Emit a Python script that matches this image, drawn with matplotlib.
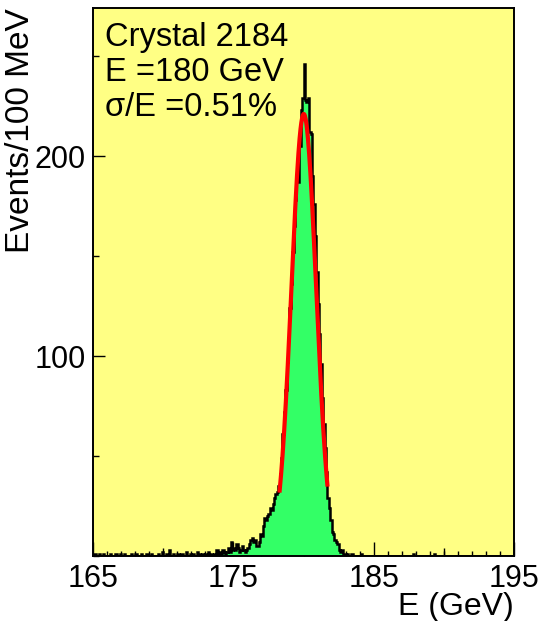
import numpy as np
import matplotlib
matplotlib.use("Agg")
import matplotlib.pyplot as plt
from matplotlib.ticker import MultipleLocator, FixedLocator

# histogram: 100 MeV bins from 165 to 195 GeV, one row per GeV
e_min = 165.0
bin_width = 0.1
counts_low_tail = [
    0, 1, 0, 0, 1, 0, 0, 1, 0, 0,   # 165
    0, 0, 1, 0, 0, 0, 1, 0, 0, 1,   # 166
    0, 0, 1, 0, 0, 0, 0, 1, 0, 0,   # 167
    1, 0, 0, 0, 1, 0, 0, 0, 1, 0,   # 168
    0, 1, 0, 0, 0, 0, 1, 0, 0, 2,   # 169
    0, 0, 1, 0, 3, 0, 0, 1, 0, 0,   # 170
    1, 0, 0, 1, 0, 0, 2, 0, 0, 1,   # 171
    0, 1, 0, 0, 2, 1, 0, 0, 1, 0,   # 172
    1, 0, 2, 0, 1, 0, 1, 0, 3, 1,   # 173
    2, 1, 3, 2, 1, 2, 4, 2, 7, 3,   # 174
    4, 3, 6, 4, 2, 3, 5, 3, 2, 3,   # 175
    4, 6, 8, 9, 7, 8, 5, 5, 7, 11,  # 176
]
counts_peak = [
    10, 15, 19, 18, 20, 21, 24, 23, 26, 29,             # 177
    31, 32, 35, 41, 49, 61, 72, 83, 97, 108,            # 178
    124, 136, 152, 165, 178, 190, 187, 205, 223, 229,   # 179
    246, 228, 227, 229, 212, 211, 190, 176, 160, 142,   # 180
    126, 111, 96, 79, 66, 54, 42, 29, 24, 18,           # 181
    12, 11, 8, 7, 6, 3, 2, 3, 1, 1,                     # 182
]
counts_high_tail = [
    0, 1, 0, 0, 1, 0, 0, 0, 0, 0,   # 183
    0, 1, 0, 0, 0, 0, 0, 0, 0, 0,   # 184
    0, 0, 0, 0, 0, 0, 0, 0, 0, 0,   # 185
    0, 0, 0, 0, 0, 0, 0, 0, 0, 0,   # 186
    0, 0, 0, 0, 0, 0, 0, 0, 1, 0,   # 187
    0, 0, 0, 0, 0, 0, 0, 0, 0, 0,   # 188
    0, 0, 0, 1, 0, 0, 0, 0, 0, 0,   # 189
    0, 0, 0, 0, 0, 0, 0, 0, 0, 0,   # 190
    0, 0, 0, 0, 0, 0, 0, 0, 0, 0,   # 191
    0, 0, 0, 0, 0, 0, 0, 0, 0, 0,   # 192
    0, 0, 0, 0, 0, 0, 0, 0, 0, 0,   # 193
    0, 0, 0, 0, 0, 0, 0, 0, 0, 0,   # 194
]

# gaussian fit parameters
fit_amp = 221.0
fit_mean = 180.02
fit_sigma = 0.88
fit_lo, fit_hi = 178.3, 181.7

info_lines = ["Crystal 2184", "E =180 GeV", "\u03c3/E =0.51%"]
x_major = [165, 175, 185, 195]
x_mid = [170, 180, 190]
y_major = [100, 200]

plt.rcParams["font.family"] = ["Liberation Sans", "DejaVu Sans"]

counts = np.array(counts_low_tail + counts_peak + counts_high_tail)
edges = e_min + bin_width * np.arange(len(counts) + 1)

fig = plt.figure(figsize=(5.4, 6.21), dpi=100)
ax = fig.add_axes([93 / 540, 65 / 621, 421 / 540, 548 / 621])
ax.set_facecolor("#ffff84")

ax.stairs(counts, edges, fill=True, color="#33ff66", zorder=2)
ax.stairs(counts, edges, color="black", lw=1.8, zorder=3)

xf = np.linspace(fit_lo, fit_hi, 300)
yf = fit_amp * np.exp(-0.5 * ((xf - fit_mean) / fit_sigma) ** 2)
ax.plot(xf, yf, color="red", lw=3, zorder=4)

ax.set_xlim(165, 195)
ax.set_ylim(0, 274)

ax.xaxis.set_major_locator(FixedLocator(x_major))
ax.xaxis.set_minor_locator(MultipleLocator(1))
ax.yaxis.set_major_locator(FixedLocator(y_major))
ax.yaxis.set_minor_locator(MultipleLocator(50))
ax.tick_params(axis="x", which="major", direction="in", length=10, width=1,
               labelsize=22, pad=6)
ax.tick_params(axis="x", which="minor", direction="in", length=3.6, width=1)
ax.tick_params(axis="y", which="major", direction="in", length=8.6, width=1,
               labelsize=22, pad=5)
ax.tick_params(axis="y", which="minor", direction="in", length=4.3, width=1)

# medium ticks every 5 GeV
sec = ax.secondary_xaxis("bottom")
sec.set_xticks(x_mid)
sec.tick_params(direction="in", length=5.5, width=1, labelbottom=False)
sec.spines["bottom"].set_visible(False)

for s in ax.spines.values():
    s.set_linewidth(1.4)

ax.set_xlabel("E (GeV)", fontsize=23, loc="right", labelpad=-2)
ax.set_ylabel("Events/100 MeV", fontsize=24, loc="top", labelpad=-1)

for i, line in enumerate(info_lines):
    ax.text(0.028, 0.975 - i * 0.064, line, transform=ax.transAxes,
            fontsize=23.5, va="top", ha="left", zorder=5)

fig.savefig("out.png", dpi=100)
